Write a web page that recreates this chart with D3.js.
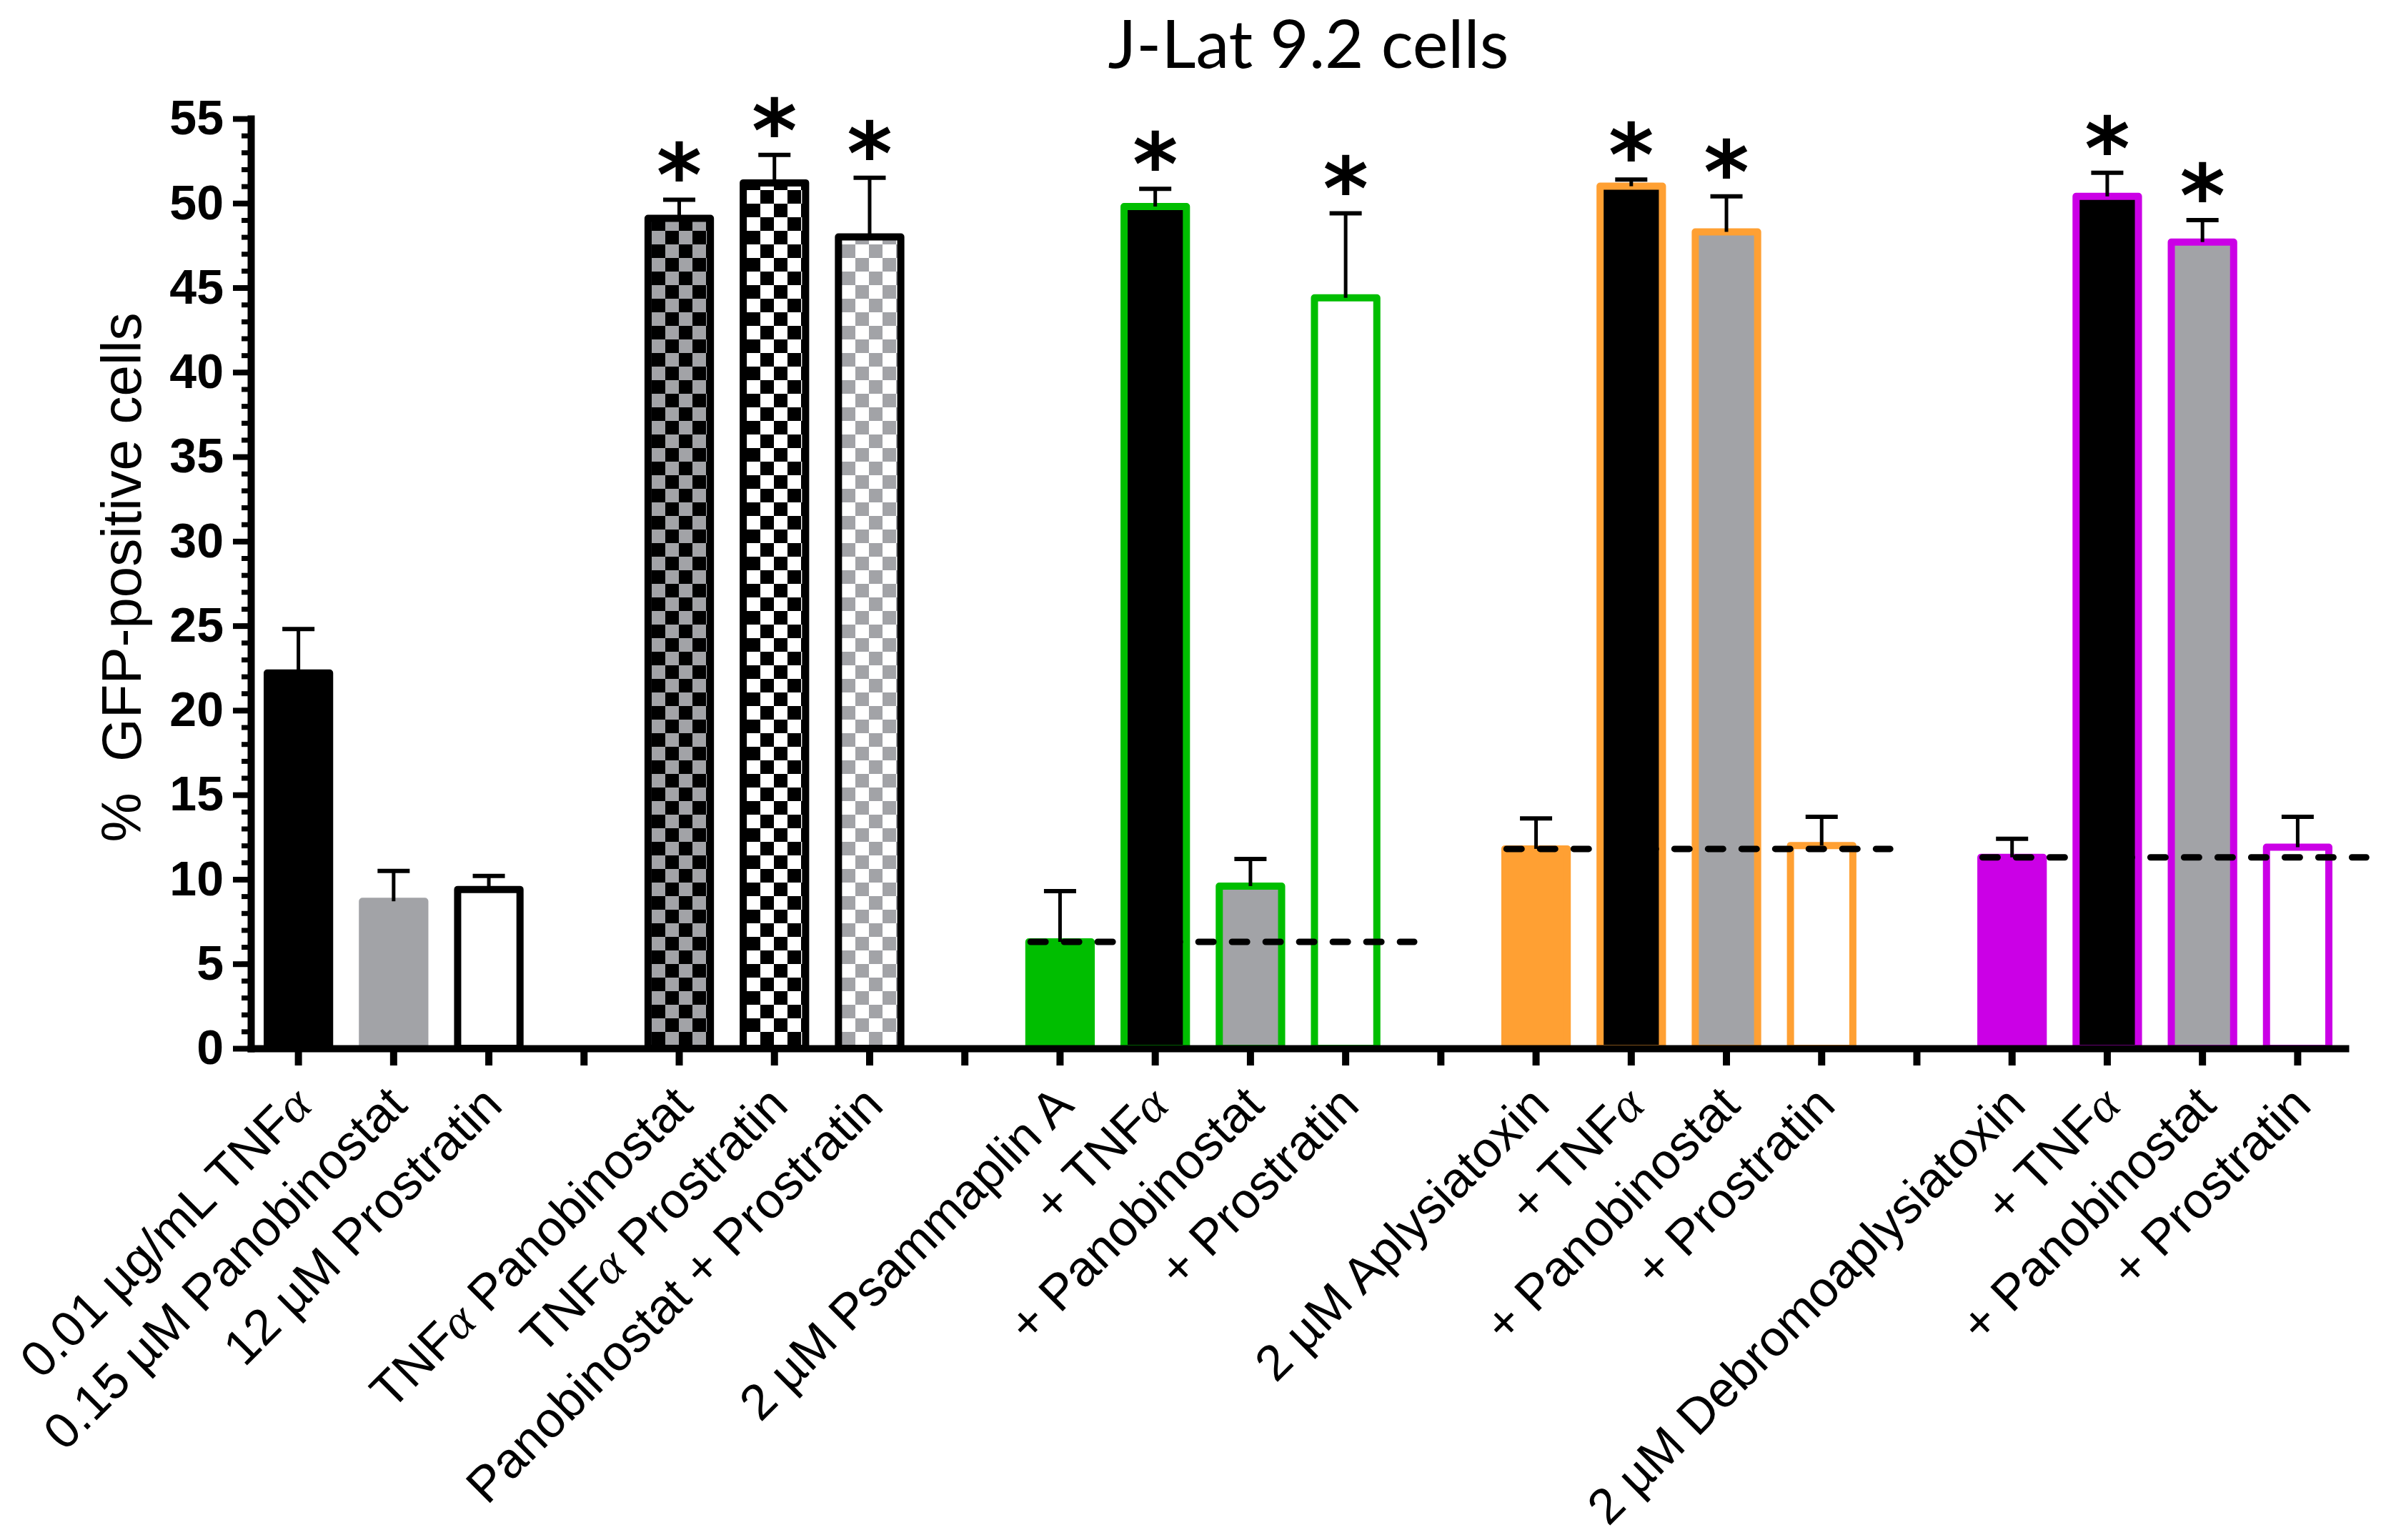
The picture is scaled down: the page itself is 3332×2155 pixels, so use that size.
<!DOCTYPE html>
<html>
<head>
<meta charset="utf-8">
<script src="https://cdn.jsdelivr.net/npm/d3@7"></script>
<style>
  body { margin: 0; background: #fff; }
  svg { display: block; }
</style>
</head>
<body>
<script>
/*************** DATA ***************/
// bar labels, left to right
const labels = [
  "0.01 µg/mL TNFα", "0.15 µM Panobinostat", "12 µM Prostratin",
  "TNFα Panobinostat", "TNFα Prostratin", "Panobinostat + Prostratin",
  "2 µM Psammaplin A", "+ TNFα", "+ Panobinostat", "+ Prostratin",
  "2 µM Aplysiatoxin", "+ TNFα", "+ Panobinostat", "+ Prostratin",
  "2 µM Debromoaplysiatoxin", "+ TNFα", "+ Panobinostat", "+ Prostratin"
];
// bars per group (an empty slot sits between groups)
const groupSizes = [3, 3, 4, 4, 4];
// % GFP-positive cells (mean) and upper error
const means  = [22.2, 8.7, 9.4, 49.1, 51.2, 48.0, 6.3, 49.8, 9.6, 44.4, 11.8, 51.0, 48.3, 12.0, 11.3, 50.4, 47.7, 11.9];
const errors = [2.6, 1.8, 0.8, 1.1, 1.65, 3.5, 3.0, 1.05, 1.6, 5.0, 1.8, 0.4, 2.1, 1.7, 1.1, 1.4, 1.3, 1.8];
const significant = [0, 0, 0, 1, 1, 1, 0, 1, 0, 1, 0, 1, 1, 0, 0, 1, 1, 0];
const fills = ["black", "grey", "white", "checkGreyBlack", "checkWhiteBlack", "checkWhiteGrey",
  "green", "black", "grey", "white", "orange", "black", "grey", "white",
  "magenta", "black", "grey", "white"];
const outlines = ["black", "grey", "black", "black", "black", "black",
  "green", "green", "green", "green", "orange", "orange", "orange", "orange",
  "magenta", "magenta", "magenta", "magenta"];
// dashed line = compound alone level, for groups 3-5
const refGroups = [2, 3, 4];
const refValues = [6.3, 11.8, 11.3];
const yMajor = [0, 5, 10, 15, 20, 25, 30, 35, 40, 45, 50, 55];

const colors = {
  black: "#000000", grey: "#a2a3a7", white: "#ffffff",
  green: "#00be00", orange: "#ffa033", magenta: "#cb00e6"
};

/*************** LAYOUT ***************/
const width = 3332, height = 2155;
const plotLeft = 351, plotRight = 3282, plotTop = 166, plotBottom = 1467;

// slot index of each bar, groups separated by an empty slot
const slotOf = [];
const groupSlots = [];
let s = 0;
groupSizes.forEach(n => {
  const g = [];
  for (let i = 0; i < n; i++) { slotOf.push(s); g.push(s); s++; }
  groupSlots.push(g);
  s++;
});
const nSlots = s - 1;

const x = d3.scaleBand()
  .domain(d3.range(nSlots))
  .range([plotLeft, plotRight])
  .paddingInner(0.345)
  .paddingOuter(0.1725);
const step = x.step();
const bw = x.bandwidth();
const cx = i => x(slotOf[i]) + bw / 2;

const y = d3.scaleLinear().domain([0, 55]).range([plotBottom, plotTop]);

const svg = d3.select("body").append("svg")
  .attr("width", width)
  .attr("height", height);

// checker patterns
const defs = svg.append("defs");
function checker(id, a, b) {
  const p = defs.append("pattern")
    .attr("id", id)
    .attr("patternUnits", "userSpaceOnUse")
    .attr("width", 38).attr("height", 38);
  p.append("rect").attr("width", 38).attr("height", 38).attr("fill", a);
  p.append("rect").attr("width", 19).attr("height", 19).attr("fill", b);
  p.append("rect").attr("x", 19).attr("y", 19).attr("width", 19).attr("height", 19).attr("fill", b);
}
checker("checkGreyBlack", colors.grey, colors.black);
checker("checkWhiteBlack", colors.white, colors.black);
checker("checkWhiteGrey", colors.white, colors.grey);

function fillOf(k) { return colors[k] ? colors[k] : "url(#" + k + ")"; }

/*************** BARS ***************/
svg.append("g").selectAll("rect")
  .data(means)
  .enter()
  .append("rect")
    .attr("x", (d, i) => x(slotOf[i]))
    .attr("y", d => y(d))
    .attr("width", bw)
    .attr("height", d => y(0) - y(d))
    .attr("fill", (d, i) => fillOf(fills[i]))
    .attr("stroke", (d, i) => colors[outlines[i]])
    .attr("stroke-width", 10)
    .attr("stroke-linejoin", "round");

// dashed reference lines
svg.append("g").selectAll("line")
  .data(refValues)
  .enter()
  .append("line")
    .attr("x1", (d, i) => x(groupSlots[refGroups[i]][0]) + bw / 2 - 0.31 * step)
    .attr("x2", (d, i) => { const g = groupSlots[refGroups[i]]; return x(g[g.length - 1]) + bw / 2 + 0.72 * step; })
    .attr("y1", d => y(d))
    .attr("y2", d => y(d))
    .attr("stroke", "#000")
    .attr("stroke-width", 9)
    .attr("stroke-linecap", "round")
    .attr("stroke-dasharray", "21,26");

// error bars (upper only)
const err = svg.append("g").selectAll("g")
  .data(means)
  .enter()
  .append("g");
err.append("line")
  .attr("x1", (d, i) => cx(i)).attr("x2", (d, i) => cx(i))
  .attr("y1", d => y(d))
  .attr("y2", (d, i) => y(d + errors[i]))
  .attr("stroke", "#000").attr("stroke-width", 5);
err.append("line")
  .attr("x1", (d, i) => cx(i) - 22.5).attr("x2", (d, i) => cx(i) + 22.5)
  .attr("y1", (d, i) => y(d + errors[i]))
  .attr("y2", (d, i) => y(d + errors[i]))
  .attr("stroke", "#000").attr("stroke-width", 6);

// asterisks, sized from the glyph's own box
const starFont = "'DejaVu Sans', 'Liberation Sans', sans-serif";
const ctx = document.createElement("canvas").getContext("2d");
ctx.font = "bold 100px " + starFont;
const m = ctx.measureText("*");
const starSize = 100 * 57 / (m.actualBoundingBoxAscent + m.actualBoundingBoxDescent);
const starDesc = m.actualBoundingBoxDescent * starSize / 100;

svg.append("g").selectAll("text")
  .data(means.map((d, i) => i).filter(i => significant[i]))
  .enter()
  .append("text")
    .attr("x", i => cx(i))
    .attr("y", i => y(means[i] + errors[i]) - 25 - starDesc)
    .attr("text-anchor", "middle")
    .style("font-family", starFont)
    .style("font-weight", "bold")
    .style("font-size", starSize + "px")
    .text("*");

/*************** AXES ***************/
// minor y ticks
svg.append("g")
  .attr("transform", `translate(${plotLeft},0)`)
  .call(d3.axisLeft(y).ticks(55).tickSize(13).tickFormat(""))
  .call(g => g.select(".domain").remove())
  .call(g => g.selectAll(".tick line").attr("stroke-width", 7));

// major y ticks + labels
svg.append("g")
  .attr("transform", `translate(${plotLeft},0)`)
  .call(d3.axisLeft(y).tickValues(yMajor).tickSize(25).tickSizeOuter(0).tickPadding(13))
  .call(g => g.select(".domain").attr("stroke-width", 10).attr("stroke-linecap", "square"))
  .call(g => g.selectAll(".tick line").attr("stroke-width", 8))
  .call(g => g.selectAll(".tick text")
    .style("font-family", "'Liberation Sans', Arial, sans-serif")
    .style("font-weight", "bold")
    .style("font-size", "68px")
    .attr("fill", "#000"));

// x axis: a tick at every slot, labels drawn below
svg.append("g")
  .attr("transform", `translate(0,${plotBottom})`)
  .call(d3.axisBottom(x).tickSize(24).tickSizeOuter(0).tickFormat(""))
  .call(g => g.select(".domain").attr("stroke-width", 10).attr("stroke-linecap", "square"))
  .call(g => g.selectAll(".tick line").attr("stroke-width", 10));

// rotated category labels (alpha set in a serif face)
const lab = svg.append("g").selectAll("text")
  .data(labels)
  .enter()
  .append("text")
    .attr("transform", (d, i) => `translate(${cx(i) + 22},${plotBottom + 83}) rotate(-45)`)
    .attr("text-anchor", "end")
    .style("font-family", "'Liberation Sans', Arial, sans-serif")
    .style("font-size", "70px");
lab.each(function(d) {
  const t = d3.select(this);
  d.split(/(α)/).filter(p => p !== "").forEach(p => {
    const sp = t.append("tspan").text(p);
    if (p === "α") sp.style("font-family", "'Liberation Serif', 'DejaVu Serif', serif").style("font-style", "italic");
  });
});

// y axis title
svg.append("text")
  .attr("transform", `translate(197,808) rotate(-90)`)
  .attr("text-anchor", "middle")
  .style("font-family", "'Liberation Sans', Arial, sans-serif")
  .style("font-size", "78px")
  .style("white-space", "pre")
  .text("%  GFP-positive cells");

// chart title
svg.append("text")
  .attr("x", 1831)
  .attr("y", 95)
  .attr("text-anchor", "middle")
  .style("font-family", "Lato, 'Open Sans', sans-serif")
  .style("font-size", "94px")
  .text("J-Lat 9.2 cells");
</script>
</body>
</html>
